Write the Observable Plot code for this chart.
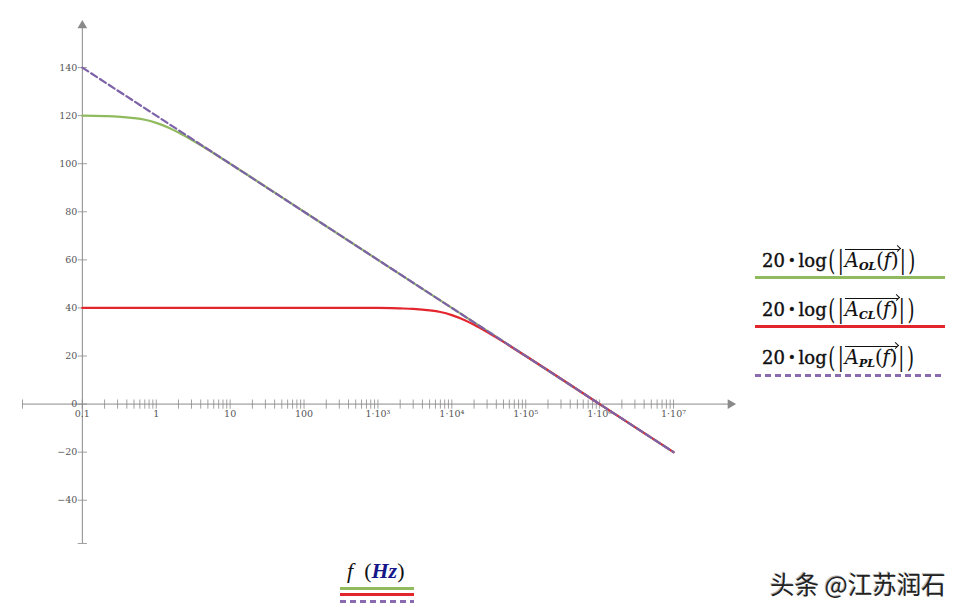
<!DOCTYPE html>
<html>
<head>
<meta charset="utf-8">
<script src="https://cdn.jsdelivr.net/npm/d3@7"></script>
<script src="https://cdn.jsdelivr.net/npm/@observablehq/plot@0.6"></script>
<style>
  html, body { margin: 0; padding: 0; background: #fff; }
  #wrap { position: relative; width: 968px; height: 614px; overflow: hidden; }
  #chart { position: absolute; left: 0; top: 0; }
  .m { position: absolute; font-family: "DejaVu Serif", "Liberation Serif", serif; font-size: 18px; font-weight: normal; color: #111; white-space: nowrap; line-height: 1; -webkit-text-stroke: 0.4px #111; }
  .m .big { display: inline-block; transform: scaleY(1.55); margin: 0 1.5px; -webkit-text-stroke: 0; }
  .m .bar { display: inline-block; transform: scaleY(1.4); -webkit-text-stroke: 0; margin: 0 1px; }
  .m .vec { position: relative; display: inline-block; font-size: 19.5px; border-top: 1.3px solid #111; padding-top: 1px; -webkit-text-stroke: 0.1px #111; }
  .m .vec::after { content: ""; position: absolute; right: -1px; top: -4px; width: 4px; height: 4px; border-top: 1.3px solid #111; border-right: 1.3px solid #111; transform: rotate(45deg); }
  .m i { font-style: italic; }
  .m sub { font-size: 11px; font-style: italic; font-weight: bold; vertical-align: -3px; }
  .m .dot { font-size: 13px; vertical-align: 2px; margin: 0 3px; }
  .sw { position: absolute; height: 3px; }
  .dash { background: repeating-linear-gradient(90deg, #8a6bb0 0 6px, transparent 6px 10px); height: 2.5px; }
  .xl { position: absolute; font-family: "Liberation Serif", serif; font-size: 22px; color: #111; white-space: nowrap; }
  .wm { position: absolute; font-family: "Noto Sans CJK SC", sans-serif; font-size: 24.5px; color: #222; white-space: nowrap; text-shadow: 1px 1px 0 #fff, -1px -1px 0 #bbb; }
</style>
</head>
<body>
<div id="wrap">
  <div id="chart"></div>

  <div class="m" style="left:762px; top:249px;">20<span class="dot">•</span>log<span class="big">(</span><span class="bar">|</span><span class="vec"><i>A</i><sub>OL</sub>(<i>f</i>)</span><span class="bar">|</span><span class="big">)</span></div>
  <div class="sw" style="left:755px; top:276px; width:190px; background:#8fbb5e;"></div>

  <div class="m" style="left:762px; top:298px;">20<span class="dot">•</span>log<span class="big">(</span><span class="bar">|</span><span class="vec"><i>A</i><sub>CL</sub>(<i>f</i>)</span><span class="bar">|</span><span class="big">)</span></div>
  <div class="sw" style="left:755px; top:325px; width:190px; background:#e3262e;"></div>

  <div class="m" style="left:762px; top:346px;">20<span class="dot">•</span>log<span class="big">(</span><span class="bar">|</span><span class="vec"><i>A</i><sub>PL</sub>(<i>f</i>)</span><span class="bar">|</span><span class="big">)</span></div>
  <div class="sw dash" style="left:755px; top:374px; width:190px;"></div>

  <div class="xl" style="left:347px; top:558px;"><i>f</i>&nbsp; (<b><i style="color:#16168a">Hz</i></b>)</div>
  <div class="sw" style="left:340px; top:587px; width:74px; background:#8fbb5e;"></div>
  <div class="sw" style="left:340px; top:593px; width:74px; background:#e3262e;"></div>
  <div class="sw dash" style="left:340px; top:600px; width:74px;"></div>

  <div class="wm" style="left:770px; top:566px;">头条 @江苏润石</div>
</div>
<script>
// ---- data ----
const freqOL = [0.1, 0.2, 0.3, 0.5, 0.7, 1, 1.5, 2, 3, 5, 7, 10, 100, 1e3, 1e4, 1e5, 1e6, 1e7];
const dbOL   = [120, 119.8, 119.6, 119.0, 118.3, 117.0, 114.9, 113.0, 110.0, 105.9, 103.0, 100, 80, 60, 40, 20, 0, -20];

const freqCL = [0.1, 1, 10, 100, 1e3, 2e3, 3e3, 5e3, 7e3, 1e4, 1.5e4, 2e4, 3e4, 5e4, 7e4, 1e5, 1e6, 1e7];
const dbCL   = [40, 40, 40, 40, 40, 39.8, 39.6, 39.0, 38.3, 37.0, 34.9, 33.0, 30.0, 25.9, 23.0, 20.0, 0, -20];

const freqPL = [0.1, 1e7];
const dbPL   = [140, -20];

const xTickValues = [0.1, 1, 10, 100, 1e3, 1e4, 1e5, 1e6, 1e7];
const xTickLabels = ["0.1", "1", "10", "100", "1·10³", "1·10⁴", "1·10⁵", "1·10⁶", "1·10⁷"];
const yTickValues = [140, 120, 100, 80, 60, 40, 20, -20, -40];
const yTickLabels = ["140", "120", "100", "80", "60", "40", "20", "−20", "−40"];

// ---- scales / axis extents ----
const xDomain = [0.0155, 5.9e7];
const yDomain = [-58, 157.5];

const minorTicks = [];
for (const dec of [0.1, 1, 10, 100, 1e3, 1e4, 1e5, 1e6]) for (let k = 1; k <= 9; k++) minorTicks.push(dec * k);
minorTicks.push(1e7);

const vTick = { draw(ctx, size) { const h = Math.sqrt(size); ctx.moveTo(0, -h); ctx.lineTo(0, h); } };
const hTick = { draw(ctx, size) { const h = Math.sqrt(size); ctx.moveTo(-h, 0); ctx.lineTo(h, 0); } };

const C_OL = "#8fbb5e", C_CL = "#e3262e", C_PL = "#7d62a8", AX = "#8a8a8a", TX = "#555";

const toRows = (fs, vs) => fs.map((f, i) => ({ f, v: vs[i] }));

const chart = Plot.plot({
  width: 968,
  height: 614,
  marginLeft: 22,
  marginRight: 238,
  marginTop: 25,
  marginBottom: 71,
  x: { type: "log", domain: xDomain, axis: null },
  y: { domain: yDomain, axis: null },
  style: { background: "transparent", fontFamily: "DejaVu Serif, serif" },
  marks: [
    // axes lines
    Plot.ruleY([0], { x1: xDomain[0], x2: xDomain[1], stroke: AX, strokeWidth: 1 }),
    Plot.ruleX([0.1], { y1: yDomain[0], y2: yDomain[1], stroke: AX, strokeWidth: 1 }),
    Plot.dot([0], { x: () => xDomain[1], y: 0, symbol: "triangle", r: 3.6, fill: AX, stroke: "none", rotate: 90 }),
    Plot.dot([0], { x: 0.1, y: () => yDomain[1], symbol: "triangle", r: 3.6, fill: AX, stroke: "none" }),
    // axis ticks
    Plot.dot(minorTicks, { x: d => d, y: 0, symbol: vTick, r: 2.6, stroke: AX, strokeWidth: 0.8, fill: "none" }),
    Plot.dot([xDomain[0]], { x: d => d, y: 0, symbol: vTick, r: 2.6, stroke: AX, strokeWidth: 0.8, fill: "none" }),
    Plot.dot(yTickValues.concat([0]), { x: 0.1, y: d => d, symbol: hTick, r: 2.6, stroke: AX, strokeWidth: 0.8, fill: "none" }),
    Plot.dot([yDomain[0]], { x: 0.1, y: d => d, symbol: hTick, r: 2.6, stroke: AX, strokeWidth: 0.8, fill: "none" }),
    // tick labels
    Plot.text(xTickLabels, { x: (d, i) => xTickValues[i], y: 0, text: d => d, dy: 10, fill: TX, fontSize: 9.5, textAnchor: "middle" }),
    Plot.text(yTickLabels, { x: 0.1, y: (d, i) => yTickValues[i], text: d => d, dx: -5, fill: TX, fontSize: 9.5, textAnchor: "end" }),
    Plot.text(["0"], { x: 0.1, y: 0, text: d => d, dx: -5, fill: TX, fontSize: 9.5, textAnchor: "end" }),
    // curves
    Plot.line(toRows(freqOL, dbOL), { x: "f", y: "v", stroke: C_OL, strokeWidth: 2.2, curve: "monotone-x" }),
    Plot.line(toRows(freqCL, dbCL), { x: "f", y: "v", stroke: C_CL, strokeWidth: 2.2, curve: "monotone-x" }),
    Plot.line(toRows(freqPL, dbPL), { x: "f", y: "v", stroke: C_PL, strokeWidth: 2.2, strokeDasharray: "7,3.5" })
  ]
});
document.getElementById("chart").appendChild(chart);
</script>
</body>
</html>
